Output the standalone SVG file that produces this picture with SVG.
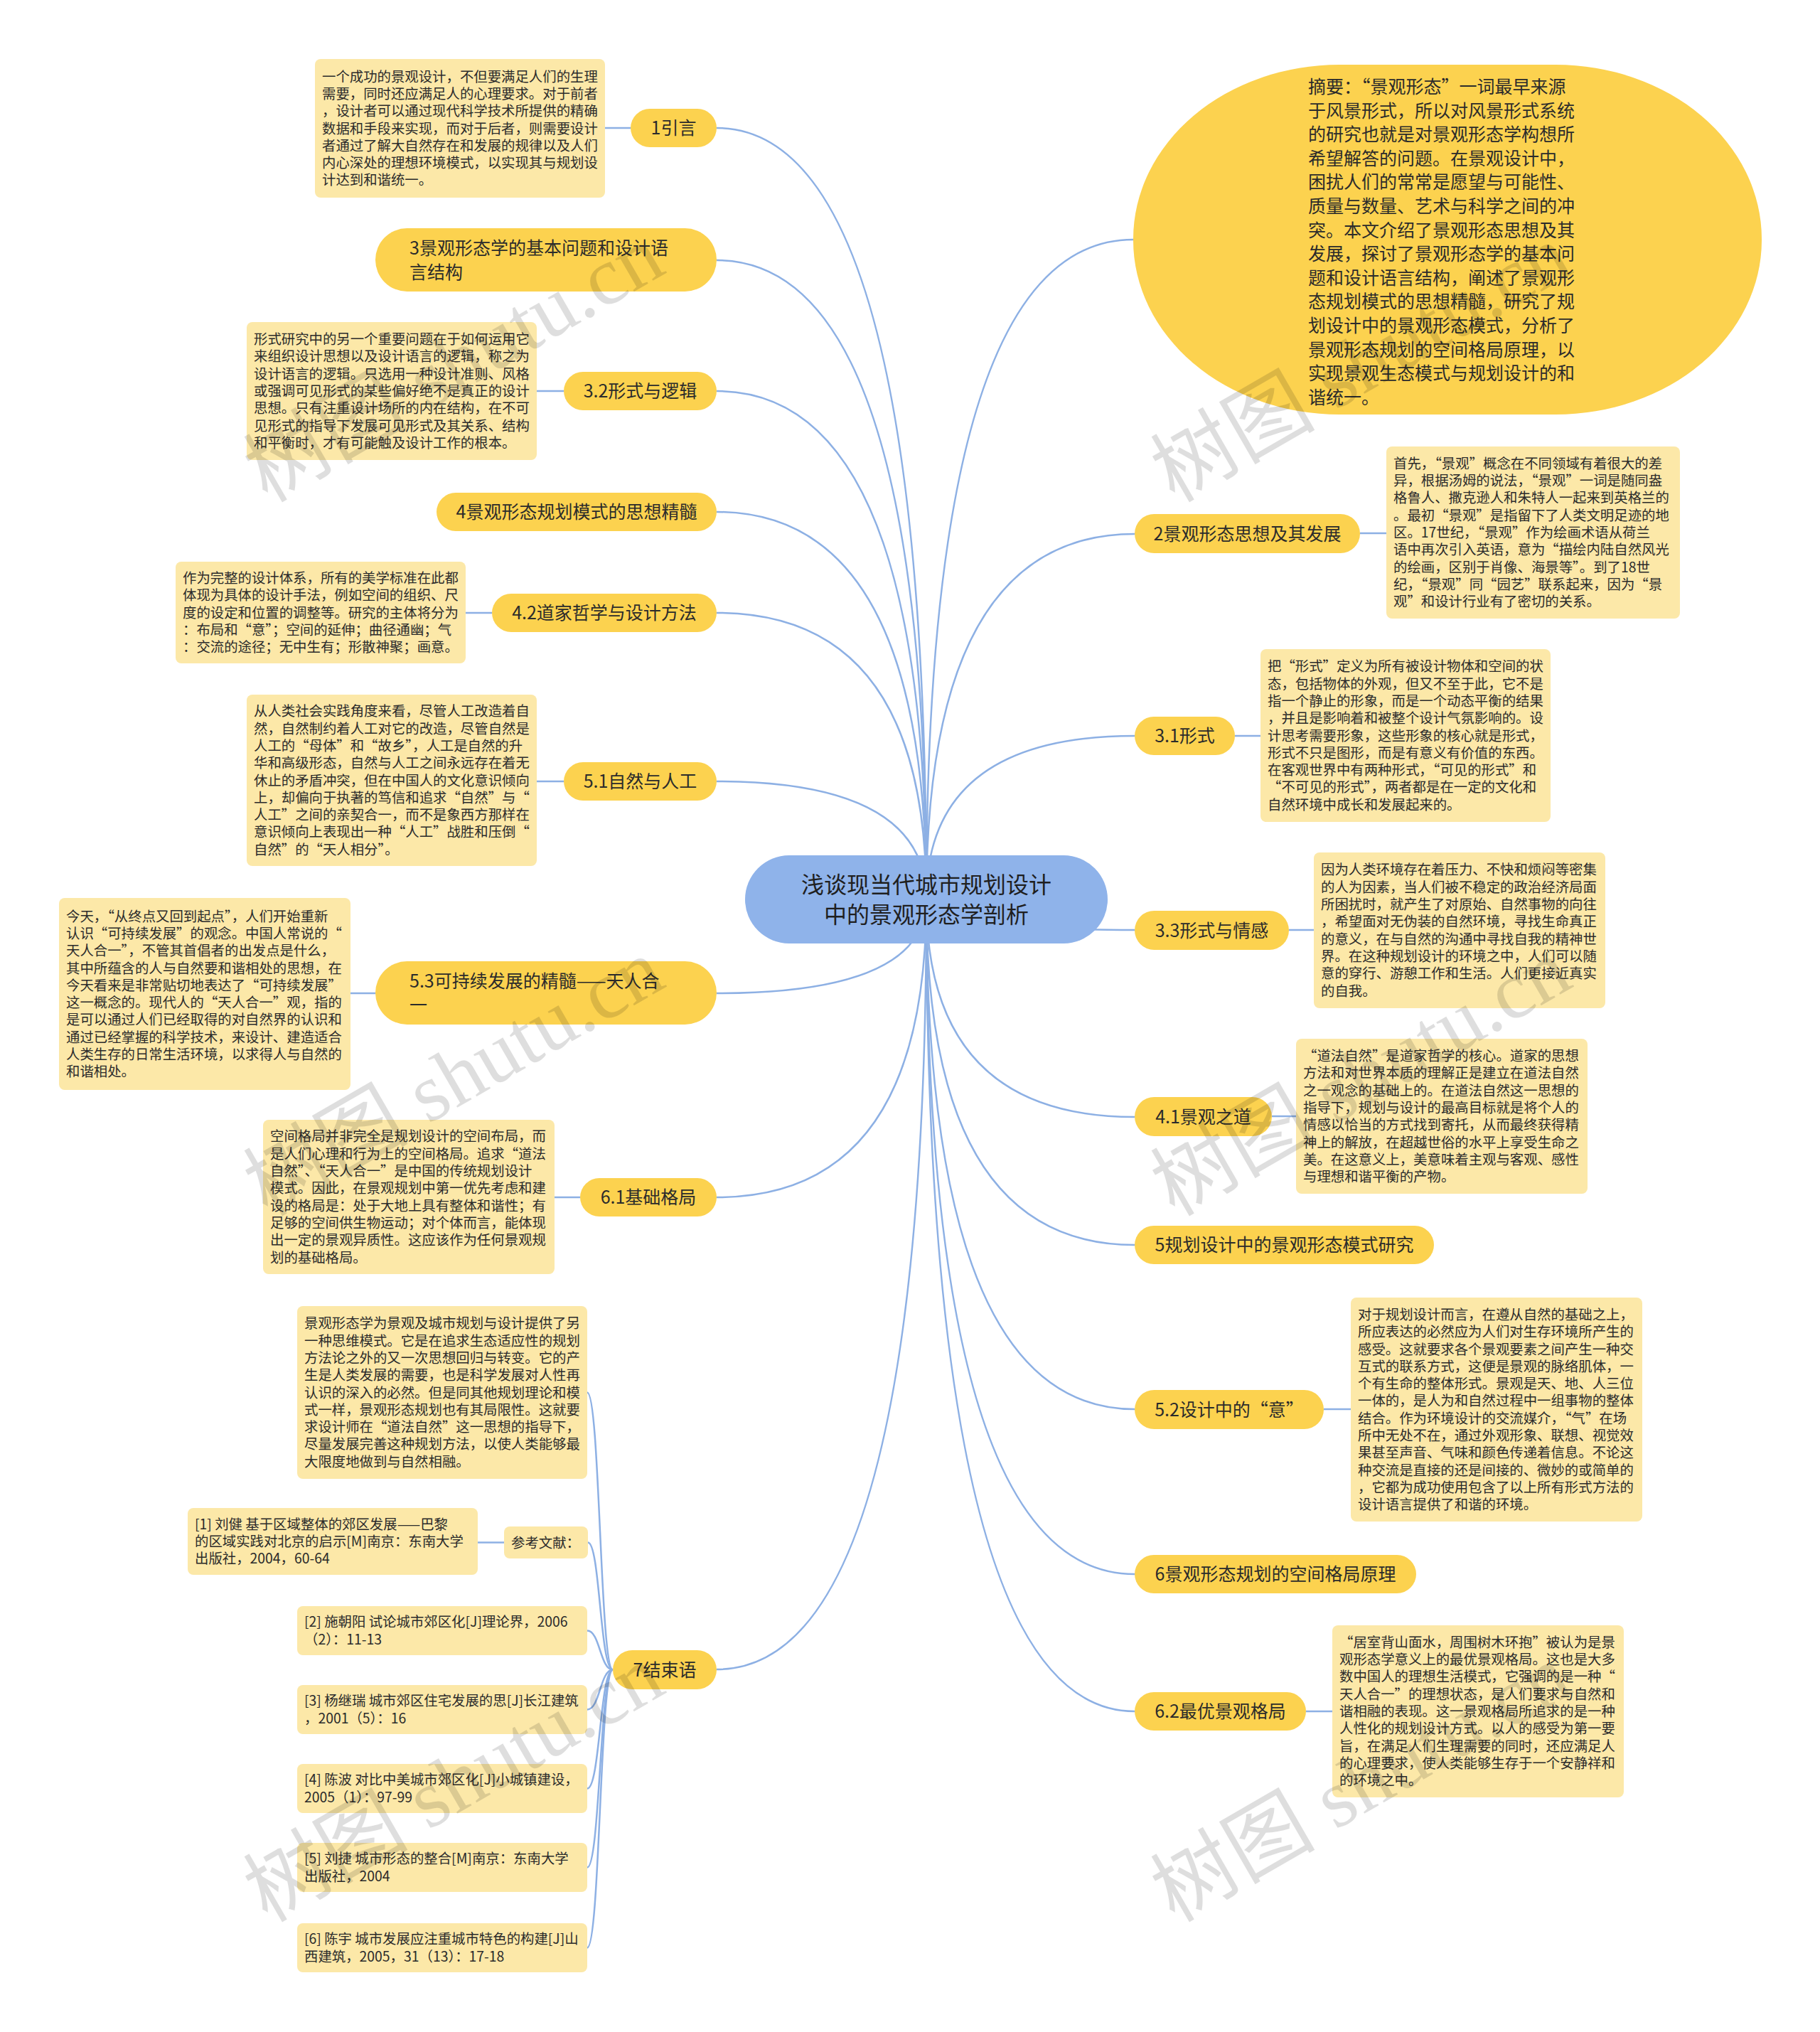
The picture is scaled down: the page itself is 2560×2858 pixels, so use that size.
<svg xmlns="http://www.w3.org/2000/svg" width="2560" height="2858" viewBox="0 0 2560 2858">
<style>
.bg{fill:#ffffff}
.nd{fill:#FCD24F}
.nt{fill:#FCE8A8}
.ctr{fill:#8FB3EA}
.t{font-family:"Noto Sans CJK SC","Noto Sans",sans-serif;fill:#2b2b2b}
.t25{font-size:25px}
.tc{text-anchor:middle}
.t19{font-size:19.4px}
.ts{font-size:25px}
.t32{font-size:32px;fill:#1f1f1f}
.cn{stroke:#8DB0E4;stroke-width:2.5;fill:none}
.wm{font-family:"Liberation Serif","Noto Sans CJK SC",serif;font-size:116px;fill:#000;fill-opacity:0.13}
</style>
<rect class="bg" x="0" y="0" width="2560" height="2858"/>
<g id="connectors">
<path class="cn" d="M1303,1265 Q1303,180 1008,180"/>
<path class="cn" d="M1303,1265 Q1303,366 1008,366"/>
<path class="cn" d="M1303,1265 Q1303,550 1008,550"/>
<path class="cn" d="M1303,1265 Q1303,720 1008,720"/>
<path class="cn" d="M1303,1265 Q1303,862 1008,862"/>
<path class="cn" d="M1303,1265 Q1303,1099 1008,1099"/>
<path class="cn" d="M1303,1265 Q1303,1397 1008,1397"/>
<path class="cn" d="M1303,1265 Q1303,1684 1008,1684"/>
<path class="cn" d="M1303,1265 Q1303,2348 1008,2348"/>
<path class="cn" d="M1303,1265 Q1303,337 1594,337"/>
<path class="cn" d="M1303,1265 Q1303,751 1596,751"/>
<path class="cn" d="M1303,1265 Q1303,1035 1596,1035"/>
<path class="cn" d="M1303,1265 Q1303,1308 1596,1308"/>
<path class="cn" d="M1303,1265 Q1303,1571 1596,1571"/>
<path class="cn" d="M1303,1265 Q1303,1751 1596,1751"/>
<path class="cn" d="M1303,1265 Q1303,1982 1596,1982"/>
<path class="cn" d="M1303,1265 Q1303,2214 1596,2214"/>
<path class="cn" d="M1303,1265 Q1303,2407 1596,2407"/>
<path class="cn" d="M887,180 L851,180"/>
<path class="cn" d="M793,550 L755,550"/>
<path class="cn" d="M692,862 L655,862"/>
<path class="cn" d="M793,1099 L755,1099"/>
<path class="cn" d="M528,1397 L493,1397"/>
<path class="cn" d="M816,1684 L780,1684"/>
<path class="cn" d="M1913,750 L1950,750"/>
<path class="cn" d="M1737,1035 L1773,1035"/>
<path class="cn" d="M1813,1308 L1848,1308"/>
<path class="cn" d="M1789,1570 L1823,1570"/>
<path class="cn" d="M1862,1982 L1900,1982"/>
<path class="cn" d="M1837,2407 L1874,2407"/>
<path class="cn" d="M862,2348.5 C844,2348.5 844,1958.5 826,1958.5"/>
<path class="cn" d="M862,2348.5 C844,2348.5 844,2169.5 827,2169.5"/>
<path class="cn" d="M862,2348.5 C844,2348.5 844,2293.5 826,2293.5"/>
<path class="cn" d="M862,2348.5 C844,2348.5 844,2404.5 826,2404.5"/>
<path class="cn" d="M862,2348.5 C844,2348.5 844,2515.5 826,2515.5"/>
<path class="cn" d="M862,2348.5 C844,2348.5 844,2626.5 826,2626.5"/>
<path class="cn" d="M862,2348.5 C844,2348.5 844,2739.5 826,2739.5"/>
<path class="cn" d="M709,2169.5 L672,2169.5"/>
</g>
<g id="center">
<rect class="ctr" x="1048" y="1203" width="510" height="124" rx="62"/>
<text class="t t32 tc"><tspan x="1303" y="1255.5">浅谈现当代城市规划设计</tspan><tspan x="1303" y="1297.5">中的景观形态学剖析</tspan></text>
</g>
<g id="n-yinyan">
<rect class="nd" x="887" y="153" width="121" height="54" rx="27"/>
<text class="t t25 tc" x="947.5" y="189">1引言</text>
</g>
<g id="note-yinyan">
<rect class="nt" x="443" y="83" width="408" height="195" rx="8"/>
<text class="t t19"><tspan x="453" y="114.6">一个成功的景观设计，不但要满足人们的生理</tspan><tspan x="453" y="138.9">需要，同时还应满足人的心理要求。对于前者</tspan><tspan x="453" y="163.2">，设计者可以通过现代科学技术所提供的精确</tspan><tspan x="453" y="187.5">数据和手段来实现，而对于后者，则需要设计</tspan><tspan x="453" y="211.8">者通过了解大自然存在和发展的规律以及人们</tspan><tspan x="453" y="236.1">内心深处的理想环境模式，以实现其与规划设</tspan><tspan x="453" y="260.4">计达到和谐统一。</tspan></text>
</g>
<g id="n-3">
<rect class="nd" x="528" y="321" width="480" height="89" rx="44.5"/>
<text class="t t25"><tspan x="576" y="357.5">3景观形态学的基本问题和设计语</tspan><tspan x="576" y="391.5">言结构</tspan></text>
</g>
<g id="n-32">
<rect class="nd" x="793" y="523" width="215" height="54" rx="27"/>
<text class="t t25 tc" x="900.5" y="559">3.2形式与逻辑</text>
</g>
<g id="note-32">
<rect class="nt" x="347" y="453" width="408" height="194" rx="8"/>
<text class="t t19"><tspan x="357" y="484.1">形式研究中的另一个重要问题在于如何运用它</tspan><tspan x="357" y="508.4">来组织设计思想以及设计语言的逻辑，称之为</tspan><tspan x="357" y="532.7">设计语言的逻辑。只选用一种设计准则、风格</tspan><tspan x="357" y="557">或强调可见形式的某些偏好绝不是真正的设计</tspan><tspan x="357" y="581.3">思想。只有注重设计场所的内在结构，在不可</tspan><tspan x="357" y="605.6">见形式的指导下发展可见形式及其关系、结构</tspan><tspan x="357" y="629.9">和平衡时，才有可能触及设计工作的根本。</tspan></text>
</g>
<g id="n-4">
<rect class="nd" x="614" y="693" width="394" height="54" rx="27"/>
<text class="t t25 tc" x="811" y="729">4景观形态规划模式的思想精髓</text>
</g>
<g id="n-42">
<rect class="nd" x="692" y="835" width="316" height="54" rx="27"/>
<text class="t t25 tc" x="850" y="871">4.2道家哲学与设计方法</text>
</g>
<g id="note-42">
<rect class="nt" x="247" y="790" width="408" height="143" rx="8"/>
<text class="t t19"><tspan x="257" y="819.9">作为完整的设计体系，所有的美学标准在此都</tspan><tspan x="257" y="844.2">体现为具体的设计手法，例如空间的组织、尺</tspan><tspan x="257" y="868.5">度的设定和位置的调整等。研究的主体将分为</tspan><tspan x="257" y="892.8">：布局和“意”；空间的延伸；曲径通幽；气</tspan><tspan x="257" y="917.1">：交流的途径；无中生有；形散神聚；画意。</tspan></text>
</g>
<g id="n-51">
<rect class="nd" x="793" y="1072" width="215" height="54" rx="27"/>
<text class="t t25 tc" x="900.5" y="1108">5.1自然与人工</text>
</g>
<g id="note-51">
<rect class="nt" x="347" y="977" width="408" height="241" rx="8"/>
<text class="t t19"><tspan x="357" y="1007.3">从人类社会实践角度来看，尽管人工改造着自</tspan><tspan x="357" y="1031.6">然，自然制约着人工对它的改造，尽管自然是</tspan><tspan x="357" y="1055.9">人工的“母体”和“故乡”，人工是自然的升</tspan><tspan x="357" y="1080.2">华和高级形态，自然与人工之间永远存在着无</tspan><tspan x="357" y="1104.5">休止的矛盾冲突，但在中国人的文化意识倾向</tspan><tspan x="357" y="1128.8">上，却偏向于执著的笃信和追求“自然”与“</tspan><tspan x="357" y="1153.1">人工”之间的亲契合一，而不是象西方那样在</tspan><tspan x="357" y="1177.4">意识倾向上表现出一种“人工”战胜和压倒“</tspan><tspan x="357" y="1201.7">自然”的“天人相分”。</tspan></text>
</g>
<g id="n-53">
<rect class="nd" x="528" y="1352" width="480" height="89" rx="44.5"/>
<text class="t t25"><tspan x="576" y="1389">5.3可持续发展的精髓——天人合</tspan><tspan x="576" y="1423">一</tspan></text>
</g>
<g id="note-53">
<rect class="nt" x="83" y="1263" width="410" height="270" rx="8"/>
<text class="t t19"><tspan x="93" y="1295.6">今天，“从终点又回到起点”，人们开始重新</tspan><tspan x="93" y="1319.9">认识“可持续发展”的观念。中国人常说的“</tspan><tspan x="93" y="1344.2">天人合一”，不管其首倡者的出发点是什么，</tspan><tspan x="93" y="1368.5">其中所蕴含的人与自然要和谐相处的思想，在</tspan><tspan x="93" y="1392.8">今天看来是非常贴切地表达了“可持续发展”</tspan><tspan x="93" y="1417.1">这一概念的。现代人的“天人合一”观，指的</tspan><tspan x="93" y="1441.4">是可以通过人们已经取得的对自然界的认识和</tspan><tspan x="93" y="1465.7">通过已经掌握的科学技术，来设计、建造适合</tspan><tspan x="93" y="1490">人类生存的日常生活环境，以求得人与自然的</tspan><tspan x="93" y="1514.3">和谐相处。</tspan></text>
</g>
<g id="n-61">
<rect class="nd" x="816" y="1657" width="192" height="54" rx="27"/>
<text class="t t25 tc" x="912" y="1693">6.1基础格局</text>
</g>
<g id="note-61">
<rect class="nt" x="370" y="1575" width="410" height="217" rx="8"/>
<text class="t t19"><tspan x="380" y="1605.4">空间格局并非完全是规划设计的空间布局，而</tspan><tspan x="380" y="1629.7">是人们心理和行为上的空间格局。追求“道法</tspan><tspan x="380" y="1654">自然”、“天人合一”是中国的传统规划设计</tspan><tspan x="380" y="1678.3">模式。因此，在景观规划中第一优先考虑和建</tspan><tspan x="380" y="1702.6">设的格局是：处于大地上具有整体和谐性；有</tspan><tspan x="380" y="1726.9">足够的空间供生物运动；对个体而言，能体现</tspan><tspan x="380" y="1751.2">出一定的景观异质性。这应该作为任何景观规</tspan><tspan x="380" y="1775.5">划的基础格局。</tspan></text>
</g>
<g id="n-7">
<rect class="nd" x="862" y="2321" width="146" height="55" rx="27.5"/>
<text class="t t25 tc" x="935" y="2357.5">7结束语</text>
</g>
<g id="note-7">
<rect class="nt" x="418" y="1837" width="408" height="243" rx="8"/>
<text class="t t19"><tspan x="428" y="1868.3">景观形态学为景观及城市规划与设计提供了另</tspan><tspan x="428" y="1892.6">一种思维模式。它是在追求生态适应性的规划</tspan><tspan x="428" y="1916.9">方法论之外的又一次思想回归与转变。它的产</tspan><tspan x="428" y="1941.2">生是人类发展的需要，也是科学发展对人性再</tspan><tspan x="428" y="1965.5">认识的深入的必然。但是同其他规划理论和模</tspan><tspan x="428" y="1989.8">式一样，景观形态规划也有其局限性。这就要</tspan><tspan x="428" y="2014.1">求设计师在“道法自然”这一思想的指导下，</tspan><tspan x="428" y="2038.4">尽量发展完善这种规划方法，以使人类能够最</tspan><tspan x="428" y="2062.7">大限度地做到与自然相融。</tspan></text>
</g>
<g id="ref-head">
<rect class="nt" x="709" y="2147" width="118" height="45" rx="8"/>
<text class="t t19" x="719" y="2176.5">参考文献：</text>
</g>
<g id="ref-1">
<rect class="nt" x="264" y="2121" width="408" height="94" rx="8"/>
<text class="t t19"><tspan x="274" y="2150.7">[1] 刘健 基于区域整体的郊区发展——巴黎</tspan><tspan x="274" y="2175">的区域实践对北京的启示[M]南京：东南大学</tspan><tspan x="274" y="2199.3">出版社，2004，60-64</tspan></text>
</g>
<g id="ref-2">
<rect class="nt" x="418" y="2259" width="408" height="69" rx="8"/>
<text class="t t19"><tspan x="428" y="2288.4">[2] 施朝阳 试论城市郊区化[J]理论界，2006</tspan><tspan x="428" y="2312.7">（2）：11-13</tspan></text>
</g>
<g id="ref-3">
<rect class="nt" x="418" y="2370" width="408" height="69" rx="8"/>
<text class="t t19"><tspan x="428" y="2399.4">[3] 杨继瑞 城市郊区住宅发展的思[J]长江建筑</tspan><tspan x="428" y="2423.7">，2001（5）：16</tspan></text>
</g>
<g id="ref-4">
<rect class="nt" x="418" y="2481" width="408" height="69" rx="8"/>
<text class="t t19"><tspan x="428" y="2510.4">[4] 陈波 对比中美城市郊区化[J]小城镇建设，</tspan><tspan x="428" y="2534.7">2005（1）：97-99</tspan></text>
</g>
<g id="ref-5">
<rect class="nt" x="418" y="2592" width="408" height="69" rx="8"/>
<text class="t t19"><tspan x="428" y="2621.4">[5] 刘捷 城市形态的整合[M]南京：东南大学</tspan><tspan x="428" y="2645.7">出版社，2004</tspan></text>
</g>
<g id="ref-6">
<rect class="nt" x="418" y="2705" width="408" height="69" rx="8"/>
<text class="t t19"><tspan x="428" y="2734.4">[6] 陈宇 城市发展应注重城市特色的构建[J]山</tspan><tspan x="428" y="2758.7">西建筑，2005，31（13）：17-18</tspan></text>
</g>
<g id="summary">
<rect class="nd" x="1594" y="91" width="884" height="492" rx="290" ry="245"/>
<text class="t ts"><tspan x="1840" y="131">摘要：“景观形态”一词最早来源</tspan><tspan x="1840" y="164.6">于风景形式，所以对风景形式系统</tspan><tspan x="1840" y="198.2">的研究也就是对景观形态学构想所</tspan><tspan x="1840" y="231.8">希望解答的问题。在景观设计中，</tspan><tspan x="1840" y="265.4">困扰人们的常常是愿望与可能性、</tspan><tspan x="1840" y="299">质量与数量、艺术与科学之间的冲</tspan><tspan x="1840" y="332.6">突。本文介绍了景观形态思想及其</tspan><tspan x="1840" y="366.2">发展，探讨了景观形态学的基本问</tspan><tspan x="1840" y="399.8">题和设计语言结构，阐述了景观形</tspan><tspan x="1840" y="433.4">态规划模式的思想精髓，研究了规</tspan><tspan x="1840" y="467">划设计中的景观形态模式，分析了</tspan><tspan x="1840" y="500.6">景观形态规划的空间格局原理，以</tspan><tspan x="1840" y="534.2">实现景观生态模式与规划设计的和</tspan><tspan x="1840" y="567.8">谐统一。</tspan></text>
</g>
<g id="n-2">
<rect class="nd" x="1596" y="723" width="317" height="55" rx="27.5"/>
<text class="t t25 tc" x="1754.5" y="759.5">2景观形态思想及其发展</text>
</g>
<g id="note-2">
<rect class="nt" x="1950" y="628" width="413" height="242" rx="8"/>
<text class="t t19"><tspan x="1960" y="658.8">首先，“景观”概念在不同领域有着很大的差</tspan><tspan x="1960" y="683.1">异，根据汤姆的说法，“景观”一词是随同盎</tspan><tspan x="1960" y="707.4">格鲁人、撒克逊人和朱特人一起来到英格兰的</tspan><tspan x="1960" y="731.7">。最初“景观”是指留下了人类文明足迹的地</tspan><tspan x="1960" y="756">区。17世纪，“景观”作为绘画术语从荷兰</tspan><tspan x="1960" y="780.3">语中再次引入英语，意为“描绘内陆自然风光</tspan><tspan x="1960" y="804.6">的绘画，区别于肖像、海景等”。到了18世</tspan><tspan x="1960" y="828.9">纪，“景观”同“园艺”联系起来，因为“景</tspan><tspan x="1960" y="853.2">观”和设计行业有了密切的关系。</tspan></text>
</g>
<g id="n-31">
<rect class="nd" x="1596" y="1008" width="141" height="54" rx="27"/>
<text class="t t25 tc" x="1666.5" y="1044">3.1形式</text>
</g>
<g id="note-31">
<rect class="nt" x="1773" y="913" width="408" height="243" rx="8"/>
<text class="t t19"><tspan x="1783" y="944.3">把“形式”定义为所有被设计物体和空间的状</tspan><tspan x="1783" y="968.6">态，包括物体的外观，但又不至于此，它不是</tspan><tspan x="1783" y="992.9">指一个静止的形象，而是一个动态平衡的结果</tspan><tspan x="1783" y="1017.2">，并且是影响着和被整个设计气氛影响的。设</tspan><tspan x="1783" y="1041.5">计思考需要形象，这些形象的核心就是形式，</tspan><tspan x="1783" y="1065.8">形式不只是图形，而是有意义有价值的东西。</tspan><tspan x="1783" y="1090.1">在客观世界中有两种形式，“可见的形式”和</tspan><tspan x="1783" y="1114.4">“不可见的形式”，两者都是在一定的文化和</tspan><tspan x="1783" y="1138.7">自然环境中成长和发展起来的。</tspan></text>
</g>
<g id="n-33">
<rect class="nd" x="1596" y="1281" width="217" height="55" rx="27.5"/>
<text class="t t25 tc" x="1704.5" y="1317.5">3.3形式与情感</text>
</g>
<g id="note-33">
<rect class="nt" x="1848" y="1199" width="410" height="219" rx="8"/>
<text class="t t19"><tspan x="1858" y="1230.4">因为人类环境存在着压力、不快和烦闷等密集</tspan><tspan x="1858" y="1254.7">的人为因素，当人们被不稳定的政治经济局面</tspan><tspan x="1858" y="1279">所困扰时，就产生了对原始、自然事物的向往</tspan><tspan x="1858" y="1303.3">，希望面对无伪装的自然环境，寻找生命真正</tspan><tspan x="1858" y="1327.6">的意义，在与自然的沟通中寻找自我的精神世</tspan><tspan x="1858" y="1351.9">界。在这种规划设计的环境之中，人们可以随</tspan><tspan x="1858" y="1376.2">意的穿行、游憩工作和生活。人们更接近真实</tspan><tspan x="1858" y="1400.5">的自我。</tspan></text>
</g>
<g id="n-41">
<rect class="nd" x="1596" y="1543" width="193" height="55" rx="27.5"/>
<text class="t t25 tc" x="1692.5" y="1579.5">4.1景观之道</text>
</g>
<g id="note-41">
<rect class="nt" x="1823" y="1461" width="410" height="218" rx="8"/>
<text class="t t19"><tspan x="1833" y="1492">“道法自然”是道家哲学的核心。道家的思想</tspan><tspan x="1833" y="1516.3">方法和对世界本质的理解正是建立在道法自然</tspan><tspan x="1833" y="1540.6">之一观念的基础上的。在道法自然这一思想的</tspan><tspan x="1833" y="1564.9">指导下，规划与设计的最高目标就是将个人的</tspan><tspan x="1833" y="1589.2">情感以恰当的方式找到寄托，从而最终获得精</tspan><tspan x="1833" y="1613.5">神上的解放，在超越世俗的水平上享受生命之</tspan><tspan x="1833" y="1637.8">美。在这意义上，美意味着主观与客观、感性</tspan><tspan x="1833" y="1662.1">与理想和谐平衡的产物。</tspan></text>
</g>
<g id="n-5">
<rect class="nd" x="1596" y="1724" width="421" height="54" rx="27"/>
<text class="t t25 tc" x="1806.5" y="1760">5规划设计中的景观形态模式研究</text>
</g>
<g id="n-52">
<rect class="nd" x="1596" y="1955" width="266" height="55" rx="27.5"/>
<text class="t t25 tc" x="1729" y="1991.5">5.2设计中的“意”</text>
</g>
<g id="note-52">
<rect class="nt" x="1900" y="1825" width="410" height="315" rx="8"/>
<text class="t t19"><tspan x="1910" y="1855.9">对于规划设计而言，在遵从自然的基础之上，</tspan><tspan x="1910" y="1880.2">所应表达的必然应为人们对生存环境所产生的</tspan><tspan x="1910" y="1904.5">感受。这就要求各个景观要素之间产生一种交</tspan><tspan x="1910" y="1928.8">互式的联系方式，这便是景观的脉络肌体，一</tspan><tspan x="1910" y="1953.1">个有生命的整体形式。景观是天、地、人三位</tspan><tspan x="1910" y="1977.4">一体的，是人为和自然过程中一组事物的整体</tspan><tspan x="1910" y="2001.7">结合。作为环境设计的交流媒介，“气”在场</tspan><tspan x="1910" y="2026">所中无处不在，通过外观形象、联想、视觉效</tspan><tspan x="1910" y="2050.3">果甚至声音、气味和颜色传递着信息。不论这</tspan><tspan x="1910" y="2074.6">种交流是直接的还是间接的、微妙的或简单的</tspan><tspan x="1910" y="2098.9">，它都为成功使用包含了以上所有形式方法的</tspan><tspan x="1910" y="2123.2">设计语言提供了和谐的环境。</tspan></text>
</g>
<g id="n-6">
<rect class="nd" x="1596" y="2187" width="396" height="54" rx="27"/>
<text class="t t25 tc" x="1794" y="2223">6景观形态规划的空间格局原理</text>
</g>
<g id="n-62">
<rect class="nd" x="1596" y="2380" width="241" height="54" rx="27"/>
<text class="t t25 tc" x="1716.5" y="2416">6.2最优景观格局</text>
</g>
<g id="note-62">
<rect class="nt" x="1874" y="2286" width="410" height="242" rx="8"/>
<text class="t t19"><tspan x="1884" y="2316.8">“居室背山面水，周围树木环抱”被认为是景</tspan><tspan x="1884" y="2341.1">观形态学意义上的最优景观格局。这也是大多</tspan><tspan x="1884" y="2365.4">数中国人的理想生活模式，它强调的是一种“</tspan><tspan x="1884" y="2389.7">天人合一”的理想状态，是人们要求与自然和</tspan><tspan x="1884" y="2414">谐相融的表现。这一景观格局所追求的是一种</tspan><tspan x="1884" y="2438.3">人性化的规划设计方式。以人的感受为第一要</tspan><tspan x="1884" y="2462.6">旨，在满足人们生理需要的同时，还应满足人</tspan><tspan x="1884" y="2486.9">的心理要求，使人类能够生存于一个安静祥和</tspan><tspan x="1884" y="2511.2">的环境之中。</tspan></text>
</g>
<g id="watermarks">
<text class="wm" transform="translate(376,708) rotate(-30)">树图 shutu.cn</text>
<text class="wm" transform="translate(1652,708) rotate(-30)">树图 shutu.cn</text>
<text class="wm" transform="translate(376,1712) rotate(-30)">树图 shutu.cn</text>
<text class="wm" transform="translate(1652,1712) rotate(-30)">树图 shutu.cn</text>
<text class="wm" transform="translate(376,2705) rotate(-30)">树图 shutu.cn</text>
<text class="wm" transform="translate(1652,2705) rotate(-30)">树图 shutu.cn</text>
</g>
</svg>
